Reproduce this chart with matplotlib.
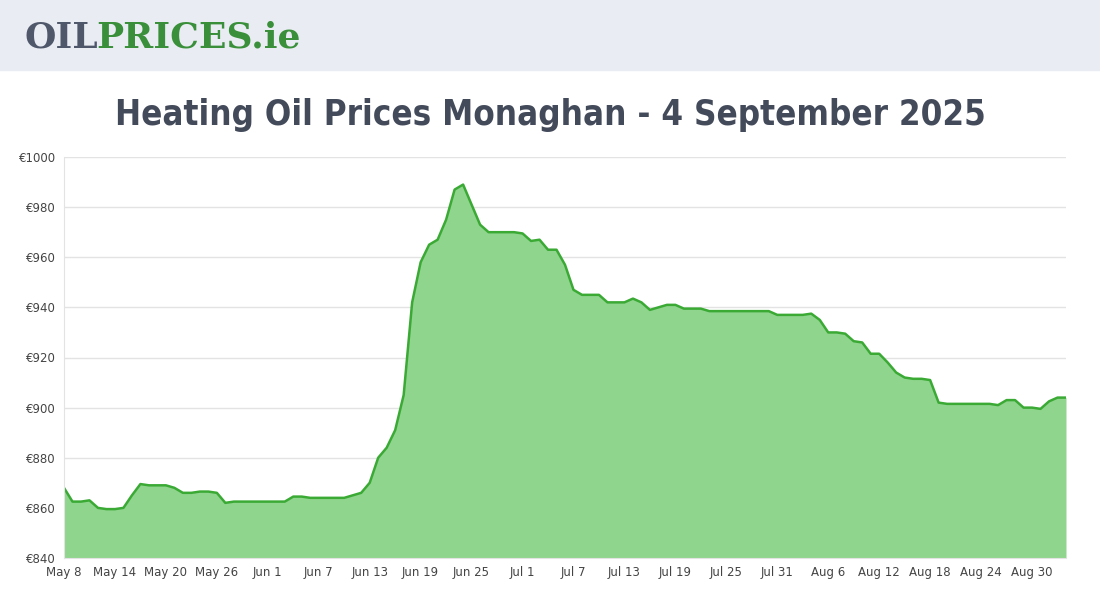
import matplotlib
matplotlib.use("Agg")
import matplotlib.pyplot as plt
import numpy as np

prices = [868, 862.5, 862.5, 863, 860, 859.5, 859.5, 860, 865, 869.5,
          869, 869, 869, 868, 866, 866, 866.5, 866.5, 866, 862,
          862.5, 862.5, 862.5, 862.5, 862.5, 862.5, 862.5, 864.5, 864.5, 864,
          864, 864, 864, 864, 865, 866, 870, 880, 884, 891,
          905, 942, 958, 965, 967, 975, 987, 989, 981, 973,
          970, 970, 970, 970, 969.5, 966.5, 967, 963, 963, 957,
          947, 945, 945, 945, 942, 942, 942, 943.5, 942, 939,
          940, 941, 941, 939.5, 939.5, 939.5, 938.5, 938.5, 938.5, 938.5,
          938.5, 938.5, 938.5, 938.5, 937, 937, 937, 937, 937.5, 935,
          930, 930, 929.5, 926.5, 926, 921.5, 921.5, 918, 914, 912,
          911.5, 911.5, 911, 902, 901.5, 901.5, 901.5, 901.5, 901.5, 901.5,
          901, 903, 903, 900, 900, 899.5, 902.5, 904, 904]
tick_labels = ["May 8", "May 14", "May 20", "May 26", "Jun 1", "Jun 7", "Jun 13",
               "Jun 19", "Jun 25", "Jul 1", "Jul 7", "Jul 13", "Jul 19", "Jul 25",
               "Jul 31", "Aug 6", "Aug 12", "Aug 18", "Aug 24", "Aug 30"]
y_ticks = [840, 860, 880, 900, 920, 940, 960, 980, 1000]

x = np.arange(len(prices))
fig = plt.figure(figsize=(11, 6), dpi=100)
fig.patches.append(plt.Rectangle((0, 530/600), 1, 70/600, transform=fig.transFigure,
                                 color="#e9ecf3", zorder=0))
fig.text(24/1100, 562/600, "OIL", fontsize=26, fontweight="heavy", color="#4f586b",
         va="center", family="DejaVu Serif")
fig.text(24/1100 + 0.0655, 562/600, "PRICES.ie", fontsize=26, fontweight="heavy",
         color="#3a8f3a", va="center", family="DejaVu Serif")
fig.text(0.5, 485/600, "Heating Oil Prices Monaghan - 4 September 2025", ha="center",
         va="center", fontsize=25, color="#434a5a", family="DejaVu Sans",
         fontstretch="condensed", fontweight="bold")

ax = fig.add_axes([64/1100, 42/600, 1002/1100, 401/600])
ax.fill_between(x, prices, 840, color="#90d58e", lw=0)
ax.plot(x, prices, color="#3aaa35", lw=1.8)
ax.set_xlim(0, len(prices) - 1)
ax.set_ylim(840, 1000)
ax.set_yticks(y_ticks)
ax.set_yticklabels([f"€{v}" for v in y_ticks])
ax.set_xticks(np.arange(len(tick_labels)) * 6)
ax.set_xticklabels(tick_labels)
ax.tick_params(labelsize=8.5, colors="#444444", length=0, pad=6)
ax.grid(axis="y", color="#e3e3e3", lw=1)
for s in ["top", "right"]:
    ax.spines[s].set_visible(False)
ax.spines["left"].set_color("#e3e3e3")
ax.spines["bottom"].set_color("#e3e3e3")
ax.set_axisbelow(True)
fig.savefig("out.png", dpi=100)
